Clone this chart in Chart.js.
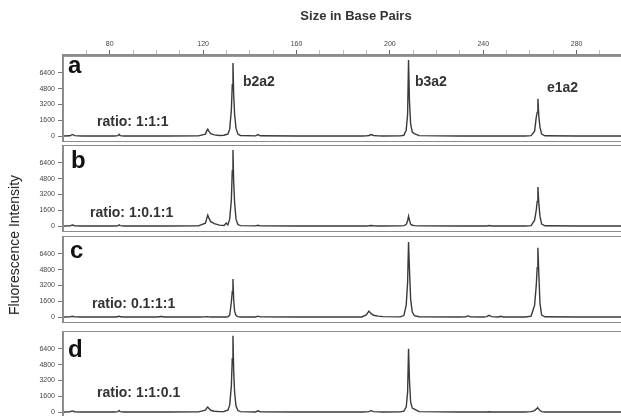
<!DOCTYPE html>
<html>
<head>
<meta charset="utf-8">
<script src="https://cdn.jsdelivr.net/npm/chart.js@4.4.1/dist/chart.umd.min.js"></script>
<style>
  body { margin: 0; background: #fff; }
  #wrap { position: relative; width: 621px; height: 416px; overflow: hidden; background: #fff;
          font-family: "Liberation Sans", Arial, sans-serif; }
  #wrap canvas { position: absolute; left: 0; }
  .t { position: absolute; white-space: nowrap; color: #222; line-height: 1; }
  .letter { font-size: 24px; font-weight: bold; color: #111; }
  .ratio, .peak { font-size: 14px; font-weight: bold; color: #333; }
</style>
</head>
<body>
<div id="wrap">
  <canvas id="panelA" width="621" height="122" style="top:20px"></canvas>
  <canvas id="panelB" width="621" height="87" style="top:145px"></canvas>
  <canvas id="panelC" width="621" height="87" style="top:236px"></canvas>
  <canvas id="panelD" width="621" height="87" style="top:331px"></canvas>

  <div class="t" style="left:356px;top:9px;transform:translateX(-50%);font-size:13px;font-weight:bold;color:#333">Size in Base Pairs</div>
  <div class="t" style="left:14px;top:245px;transform:translate(-50%,-50%) rotate(-90deg);font-size:14px;color:#222">Fluorescence Intensity</div>

  <div class="t letter" style="left:68px;top:53px">a</div>
  <div class="t letter" style="left:71px;top:148px">b</div>
  <div class="t letter" style="left:70px;top:238px">c</div>
  <div class="t letter" style="left:68px;top:337px">d</div>

  <div class="t ratio" style="left:97px;top:114px">ratio: 1:1:1</div>
  <div class="t ratio" style="left:90px;top:205px">ratio: 1:0.1:1</div>
  <div class="t ratio" style="left:92px;top:296px">ratio: 0.1:1:1</div>
  <div class="t ratio" style="left:97px;top:385px">ratio: 1:1:0.1</div>

  <div class="t peak" style="left:243px;top:74px">b2a2</div>
  <div class="t peak" style="left:415px;top:74px">b3a2</div>
  <div class="t peak" style="left:547px;top:80px">e1a2</div>
</div>

<script>
// fragment size (bp), shared by all four traces
const sizes = [
  60, 63, 64, 65, 68,
  82, 83.5, 84, 84.5, 86,
  100, 101.5, 102, 102.5, 104,
  118, 121, 121.6, 122, 122.5, 123.3, 124.8, 127,
  129, 129.9, 130.6, 131.4, 132.1, 132.5, 132.8, 133.1, 133.5, 134.1, 134.9, 136,
  142.5, 143.5, 144.5, 160,
  188, 190, 191, 192, 193, 195, 197,
  204.5, 206, 207, 207.6, 208, 208.4, 208.9, 209.6, 210.5, 212.5,
  230, 232.5, 233.5, 234.5,
  240, 241.5, 242.5, 243.5, 246.5, 247.5, 248.5,
  258, 260.5, 262, 262.7, 263.1, 263.4, 263.8, 264.3, 265, 266.5,
  280, 299
];

// fluorescence
const traceA = [
  10, 30, 160, 40, 10,
  10, 40, 170, 50, 10,
  10, 10, 20, 10, 10,
  20, 200, 550, 700, 480, 250, 120, 60,
  80, 160, 200, 700, 2600, 5200, 7400, 4200, 2200, 800, 200, 60,
  20, 150, 30, 10,
  10, 20, 60, 160, 60, 20, 10,
  20, 80, 600, 2200, 7700, 3500, 1200, 400, 250, 40,
  10, 10, 20, 10,
  10, 10, 20, 10, 10, 15, 10,
  10, 40, 500, 1900, 2400, 3760, 2000, 900, 200, 30,
  10, 10
];
const traceB = [
  10, 20, 100, 30, 10,
  10, 30, 120, 40, 10,
  10, 10, 10, 10, 10,
  20, 300, 800, 1100, 800, 450, 250, 100,
  60, 300, 120, 700, 2600, 5600, 7700, 4500, 2400, 700, 150, 40,
  20, 80, 20, 10,
  10, 10, 30, 60, 30, 10, 10,
  20, 40, 150, 500, 1000, 600, 200, 80, 40, 20,
  10, 10, 10, 10,
  10, 10, 50, 10, 10, 10, 10,
  10, 50, 600, 1600, 2500, 3960, 2300, 1000, 200, 30,
  10, 10
];
const traceC = [
  10, 20, 80, 20, 10,
  10, 30, 100, 30, 10,
  10, 30, 80, 30, 10,
  10, 20, 30, 30, 20, 10, 10, 10,
  10, 10, 20, 200, 1500, 2600, 3860, 1800, 600, 150, 40, 10,
  10, 90, 20, 10,
  10, 250, 600, 350, 180, 100, 40,
  20, 150, 1200, 3500, 7600, 4800, 1800, 500, 150, 30,
  10, 30, 120, 20,
  10, 40, 180, 40, 10, 80, 10,
  10, 100, 1200, 3200, 5000, 7000, 4400, 1400, 200, 30,
  10, 10
];
const traceD = [
  10, 30, 120, 30, 10,
  10, 40, 160, 40, 10,
  10, 10, 10, 10, 10,
  20, 200, 420, 500, 350, 180, 80, 40,
  60, 150, 180, 700, 2600, 5400, 7720, 4200, 2000, 600, 150, 40,
  10, 120, 30, 10,
  10, 20, 50, 140, 50, 20, 10,
  20, 100, 500, 2000, 6400, 3200, 1000, 400, 300, 40,
  10, 10, 20, 10,
  10, 10, 30, 10, 10, 10, 10,
  10, 40, 150, 300, 380, 420, 300, 150, 40, 10,
  10, 10
];

const sizeTicks = [80, 120, 160, 200, 240, 280];
const intensityTicks = [0, 1600, 3200, 4800, 6400];

const frame = {
  id: "frame",
  afterDraw(chart) {
    const { ctx, chartArea: a } = chart;
    ctx.save();
    ctx.strokeStyle = "#8c8c8c";
    ctx.lineWidth = 2;
    ctx.strokeRect(a.left, a.top, a.right - a.left + 6, a.bottom - a.top);
    ctx.restore();
  }
};

function makePanel(id, trace, withTopAxis) {
  const points = sizes.map((s, i) => ({ x: s, y: trace[i] }));
  return new Chart(document.getElementById(id), {
    type: "line",
    data: { datasets: [{ data: points, borderColor: "#3a3a3a", borderWidth: 1.4, pointRadius: 0, tension: 0 }] },
    plugins: [frame],
    options: {
      responsive: false,
      animation: false,
      events: [],
      layout: { padding: 0 },
      plugins: { legend: { display: false }, tooltip: { enabled: false } },
      scales: {
        x: {
          type: "linear",
          position: "top",
          min: 60,
          max: 299,
          display: withTopAxis,
          afterBuildTicks: (s) => {
            const t = [];
            for (let v = 70; v <= 290; v += 10) t.push({ value: v });
            s.ticks = t;
          },
          afterFit: (s) => {
            s.height = withTopAxis ? 35 : 0;
            s.paddingLeft = 0;
            s.paddingRight = 0;
          },
          ticks: {
            autoSkip: false,
            maxRotation: 0,
            padding: 2,
            color: "#444",
            font: { size: 7, family: "Liberation Sans" },
            callback: (v) => (sizeTicks.includes(v) ? String(v) : "")
          },
          grid: {
            drawOnChartArea: false,
            tickLength: 5,
            color: (c) => (c.tick && sizeTicks.includes(c.tick.value) ? "#666" : "#bbb")
          },
          border: { display: true, color: "#999", width: 3 }
        },
        y: {
          min: -600,
          max: 8200,
          afterBuildTicks: (s) => { s.ticks = intensityTicks.map((v) => ({ value: v })); },
          afterFit: (s) => {
            s.width = 63;
            s.paddingTop = 0;
            s.paddingBottom = 0;
          },
          ticks: {
            padding: 3,
            color: "#444",
            font: { size: 7, family: "Liberation Sans" },
            callback: (v) => String(v)
          },
          grid: { drawOnChartArea: false, tickLength: 5, color: "#777" },
          border: { display: false }
        }
      }
    }
  });
}

makePanel("panelA", traceA, true);
makePanel("panelB", traceB, false);
makePanel("panelC", traceC, false);
makePanel("panelD", traceD, false);
</script>
</body>
</html>
